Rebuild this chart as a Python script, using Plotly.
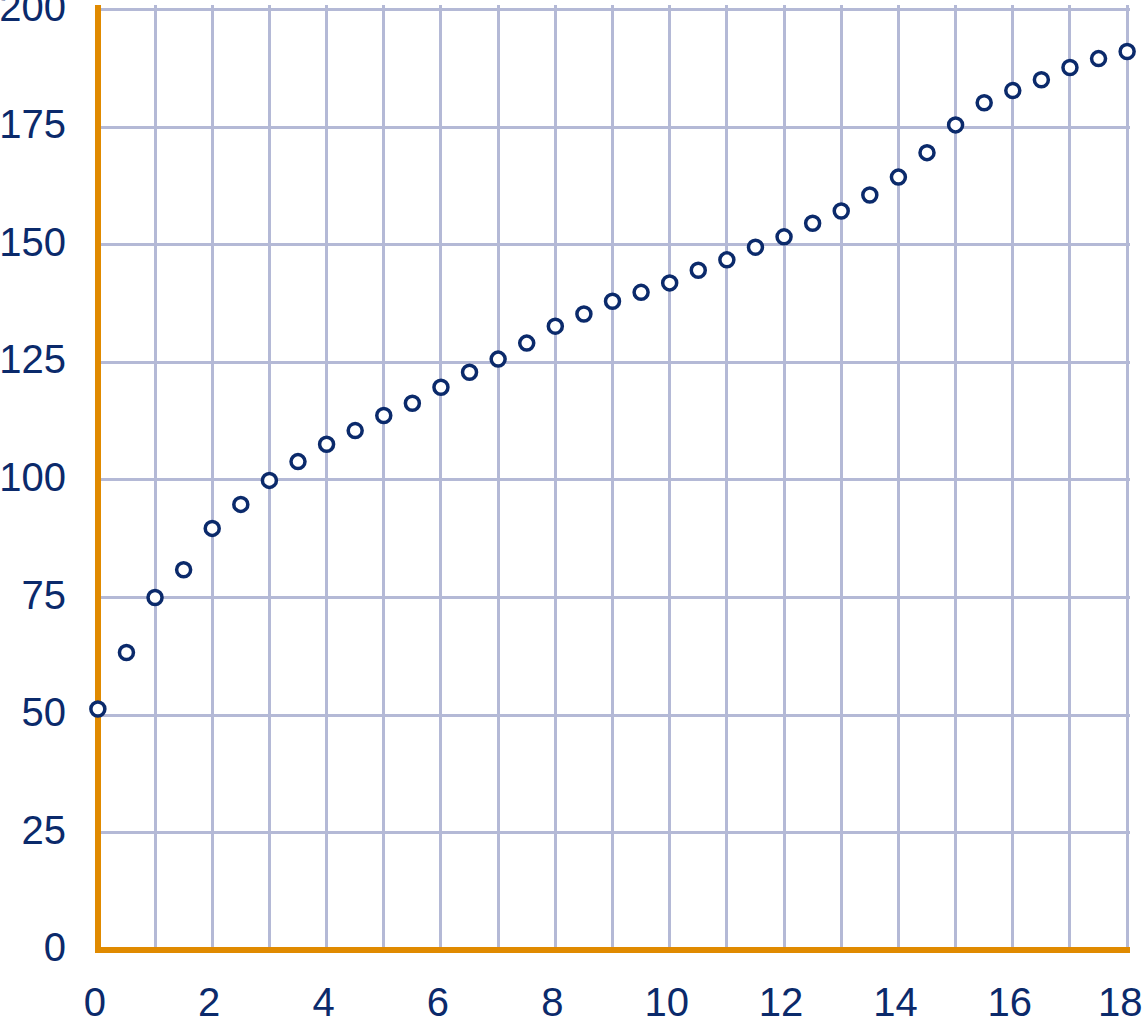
import plotly.graph_objects as go

x_vals = [0, 0.5, 1, 1.5, 2, 2.5, 3, 3.5, 4, 4.5, 5, 5.5, 6, 6.5, 7, 7.5, 8, 8.5, 9,
          9.5, 10, 10.5, 11, 11.5, 12, 12.5, 13, 13.5, 14, 14.5, 15, 15.5, 16, 16.5,
          17, 17.5, 18]
y_vals = [51.3, 63.3, 75.0, 80.9, 89.7, 94.8, 99.9, 103.9, 107.6, 110.5, 113.7, 116.3,
          119.7, 122.9, 125.7, 129.1, 132.7, 135.3, 138.0, 139.9, 141.9, 144.6, 146.8,
          149.5, 151.7, 154.6, 157.2, 160.6, 164.4, 169.6, 175.5, 180.2, 182.8, 185.1,
          187.7, 189.6, 191.1]
x_ticks = [0, 2, 4, 6, 8, 10, 12, 14, 16, 18]
x_labels = ["0", "2", "4", "6", "8", "10", "12", "14", "16", "18\u2009"]
y_ticks = [0, 25, 50, 75, 100, 125, 150, 175, 200]
y_labels = ["0", "25", "50", "75", "100", "125", "150", "175", "200"]

navy = "#0B2A6B"
orange = "#E08A00"
grid = "#B4B9D6"

fig = go.Figure(go.Scatter(
    x=x_vals, y=y_vals, mode="markers",
    marker=dict(symbol="circle", size=14, color="white", line=dict(width=3.5, color=navy)),
    cliponaxis=False,
))

fig.update_layout(
    width=1142, height=1022, autosize=False,
    margin=dict(l=95, r=12, t=5, b=69, autoexpand=False),
    paper_bgcolor="white", plot_bgcolor="white",
    showlegend=False,
    font=dict(family="Liberation Sans, Arial, sans-serif", size=40, color=navy),
)
fig.update_xaxes(
    range=[-0.05, 18.05], tickvals=x_ticks, ticktext=x_labels,
    showgrid=True, gridcolor=grid, gridwidth=3,
    zeroline=True, zerolinecolor=orange, zerolinewidth=6,
    showline=False, ticks="", ticklabelstandoff=22, ticklabelshift=-3,
    automargin=False, ticklabeloverflow="allow",
)
fig.update_xaxes(minor=dict(dtick=1, showgrid=True, gridcolor=grid, gridwidth=3))
fig.update_yaxes(
    range=[-0.6, 201], tickvals=y_ticks, ticktext=y_labels,
    showgrid=True, gridcolor=grid, gridwidth=3,
    zeroline=True, zerolinecolor=orange, zerolinewidth=6,
    showline=False, ticks="", ticklabelstandoff=28, ticklabelshift=-3,
    automargin=False, ticklabeloverflow="allow",
)

fig.write_html("out.html", config={"displayModeBar": False},
               post_script="document.body.style.margin='0px';")
